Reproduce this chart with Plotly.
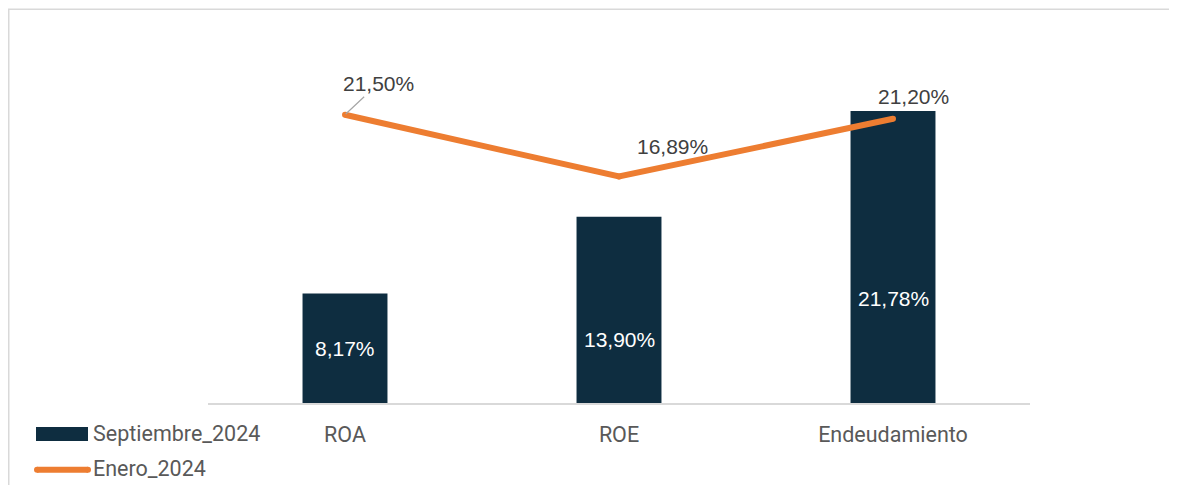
import plotly.graph_objects as go

# ---- data ----
categories = ["ROA", "ROE", "Endeudamiento"]
septiembre_2024 = [8.17, 13.90, 21.78]
enero_2024 = [21.50, 16.89, 21.20]
series_names = ["Septiembre_2024", "Enero_2024"]

# ---- styling / layout ----
W, H = 1177, 485
OX, OY = 8, 7.5  # page offset of the figure inside the window
PL, PR, PT, PB = 208 - OX, 1030 - OX, 40 - OY, 403 - OY  # plot area in figure pixels
Y_MAX = 27.0
BAR_COLOR = "#0E2D40"
LINE_COLOR = "#ED7D31"
FONT = "Roboto"
LABEL_FONT = "Liberation Sans"


def px_x(px):
    """screen x (as seen in the window) -> paper x"""
    return (px - OX - PL) / (PR - PL)


def px_y(py):
    """screen y -> paper y"""
    return (PB - (py - OY)) / (PB - PT)


def fmt(v):
    return f"{v:.2f}".replace(".", ",") + "%"


# inside-bar label heights (fraction of the bar)
bar_label_frac = [0.50, 0.343, 0.359]
# line label offsets (px)
line_label_shift = [(33, -31, True), (53, 30, False), (20, 22, False)]

fig = go.Figure()
fig.add_trace(go.Bar(
    x=categories, y=septiembre_2024, name=series_names[0],
    marker=dict(color=BAR_COLOR, line=dict(width=0)), width=0.31,
    hoverinfo="skip",
))
fig.add_trace(go.Scatter(
    x=categories, y=enero_2024, name=series_names[1], mode="lines+markers",
    line=dict(color=LINE_COLOR, width=6),
    marker=dict(color=LINE_COLOR, size=6),
    hoverinfo="skip",
))

annotations = []
for c, v, f in zip(categories, septiembre_2024, bar_label_frac):
    annotations.append(dict(
        x=c, y=v * f, text=fmt(v), showarrow=False,
        font=dict(family=LABEL_FONT, size=21, color="white"),
    ))
for c, v, (dx, dy, arrow) in zip(categories, enero_2024, line_label_shift):
    if arrow:
        annotations.append(dict(
            x=c, y=v, text=fmt(v), showarrow=True, arrowhead=0,
            arrowwidth=1.2, arrowcolor="#A6A6A6", ax=dx, ay=dy, standoff=1,
            font=dict(family=LABEL_FONT, size=21, color="#404040"),
        ))
    else:
        annotations.append(dict(
            x=c, y=v, text=fmt(v), showarrow=False, xshift=dx, yshift=dy,
            font=dict(family=LABEL_FONT, size=21, color="#404040"),
        ))

# manual legend
legend_items = [
    (series_names[0], "bar", 434),
    (series_names[1], "line", 469),
]
shapes = [
    # outer chart border
    dict(type="rect", xref="paper", yref="paper",
         x0=px_x(OX + 0.75), x1=px_x(1200), y0=px_y(520), y1=px_y(OY + 0.75),
         line=dict(color="#D9D9D9", width=1.5), fillcolor="rgba(0,0,0,0)",
         layer="below"),
]
for name, kind, cy in legend_items:
    if kind == "bar":
        shapes.append(dict(type="rect", xref="paper", yref="paper",
                           x0=px_x(36), x1=px_x(88), y0=px_y(cy + 7), y1=px_y(cy - 7),
                           fillcolor=BAR_COLOR, line=dict(width=0)))
    else:
        shapes.append(dict(type="line", xref="paper", yref="paper",
                           x0=px_x(37), x1=px_x(88), y0=px_y(cy + 1), y1=px_y(cy + 1),
                           line=dict(color=LINE_COLOR, width=6)))
        for ex in (37, 88):
            shapes.append(dict(type="circle", xref="paper", yref="paper",
                               x0=px_x(ex - 3), x1=px_x(ex + 3),
                               y0=px_y(cy + 4), y1=px_y(cy - 2),
                               fillcolor=LINE_COLOR, line=dict(width=0)))
    annotations.append(dict(
        xref="paper", yref="paper", x=px_x(91), y=px_y(cy),
        xanchor="left", yanchor="middle", text=name, showarrow=False,
        font=dict(family=FONT, size=21.5, color="#595959"),
    ))

fig.update_layout(
    width=W, height=H,
    margin=dict(l=PL, r=W - PR, t=PT, b=H - PB),
    paper_bgcolor="white", plot_bgcolor="white",
    showlegend=False,
    annotations=annotations, shapes=shapes,
    xaxis=dict(showline=True, linecolor="#D9D9D9", linewidth=2,
               showgrid=False, zeroline=False, ticks="",
               ticklabelstandoff=11,
               tickfont=dict(family=FONT, size=21.5, color="#595959"),
               fixedrange=True),
    yaxis=dict(visible=False, range=[0, Y_MAX], fixedrange=True),
)

fig.write_html("out.html")
